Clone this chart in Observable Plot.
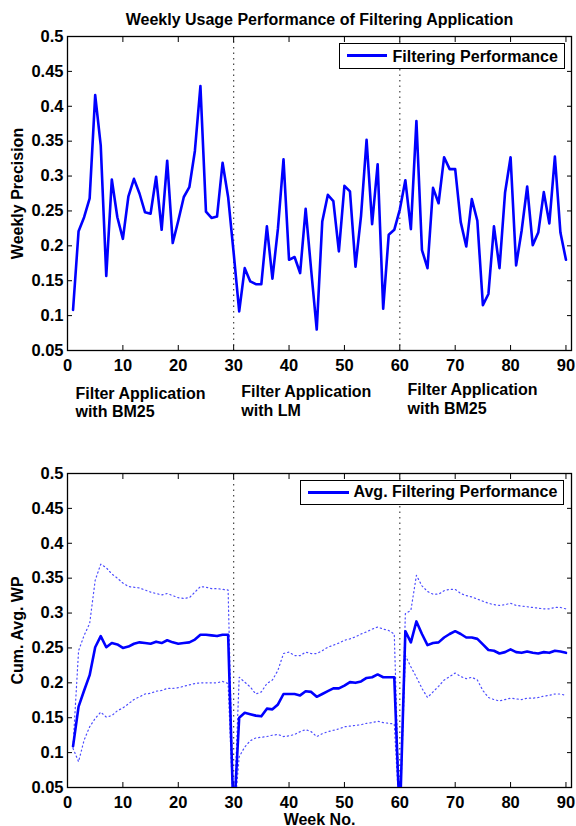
<!DOCTYPE html>
<html>
<head>
<meta charset="utf-8">
<script src="https://cdn.jsdelivr.net/npm/d3@7"></script>
<script src="https://cdn.jsdelivr.net/npm/@observablehq/plot@0.6"></script>
<style>
  body { margin: 0; background: #fff; }
  #wrap { position: relative; width: 576px; height: 826px; font-family: "Liberation Sans", Arial, Helvetica, sans-serif; font-weight: bold; }
  #wrap svg { position: absolute; left: 0; }
  #wrap svg text { font-weight: bold; }
  .legend { position: absolute; background: #fff; border: 1.5px solid #000; box-sizing: border-box; font-size: 16px; }
  .legend .sample { position: absolute; height: 3px; background: #0000ff; }
  .legend .lab { position: absolute; line-height: 16px; white-space: nowrap; color: #000; }
</style>
</head>
<body>
<div id="wrap"></div>
<script>
// ---------- data ----------
const weeks = d3.range(1, 91);

const weeklyPrecision = [
  0.108, 0.221, 0.241, 0.268, 0.416, 0.344, 0.157, 0.295, 0.241, 0.210,
  0.271, 0.296, 0.275, 0.248, 0.246, 0.299, 0.223, 0.322, 0.204, 0.236,
  0.270, 0.284, 0.336, 0.429, 0.249, 0.240, 0.242, 0.319, 0.270, 0.190,
  0.106, 0.168, 0.149, 0.145, 0.145, 0.228, 0.153, 0.225, 0.324, 0.180,
  0.184, 0.161, 0.253, 0.165, 0.080, 0.235, 0.273, 0.264, 0.192, 0.286,
  0.278, 0.170, 0.243, 0.352, 0.231, 0.317, 0.110, 0.216, 0.223, 0.252,
  0.294, 0.224, 0.379, 0.194, 0.168, 0.283, 0.261, 0.327, 0.310, 0.310,
  0.234, 0.199, 0.267, 0.236, 0.115, 0.131, 0.228, 0.168, 0.276, 0.327,
  0.172, 0.222, 0.285, 0.201, 0.219, 0.277, 0.232, 0.328, 0.219, 0.180
];

const cumAvg = [
  0.109, 0.166, 0.189, 0.211, 0.251, 0.267, 0.251, 0.257, 0.255, 0.250,
  0.252, 0.256, 0.258, 0.257, 0.256, 0.259, 0.257, 0.261, 0.258, 0.256,
  0.257, 0.258, 0.262, 0.269, 0.269, 0.268, 0.267, 0.269, 0.269, 0,
  0.150, 0.157, 0.155, 0.153, 0.152, 0.163, 0.162, 0.169, 0.184, 0.184,
  0.184, 0.182, 0.188, 0.187, 0.180, 0.184, 0.188, 0.192, 0.192, 0.196,
  0.201, 0.200, 0.202, 0.207, 0.208, 0.212, 0.208, 0.208, 0.208, 0,
  0.274, 0.258, 0.288, 0.270, 0.254, 0.257, 0.258, 0.265, 0.270, 0.274,
  0.270, 0.265, 0.265, 0.263, 0.255, 0.247, 0.246, 0.242, 0.244, 0.248,
  0.244, 0.243, 0.245, 0.243, 0.242, 0.244, 0.243, 0.246, 0.245, 0.243
];

const cumUpper = [
  0.109, 0.246, 0.268, 0.285, 0.347, 0.370, 0.365, 0.356, 0.350, 0.343,
  0.338, 0.337, 0.336, 0.333, 0.330, 0.328, 0.326, 0.328, 0.325, 0.322,
  0.321, 0.322, 0.330, 0.338, 0.337, 0.335, 0.335, 0.334, 0.333, 0,
  0.208, 0.201, 0.194, 0.184, 0.187, 0.199, 0.204, 0.218, 0.242, 0.244,
  0.239, 0.239, 0.244, 0.242, 0.242, 0.246, 0.251, 0.254, 0.257, 0.261,
  0.263, 0.266, 0.270, 0.273, 0.277, 0.280, 0.277, 0.275, 0.270, 0,
  0.299, 0.304, 0.354, 0.339, 0.331, 0.327, 0.327, 0.332, 0.334, 0.334,
  0.328, 0.325, 0.323, 0.320, 0.317, 0.314, 0.312, 0.311, 0.312, 0.314,
  0.311, 0.310, 0.309, 0.308, 0.307, 0.306, 0.306, 0.308, 0.308, 0.306
];

const cumLower = [
  0.106, 0.087, 0.118, 0.137, 0.149, 0.158, 0.151, 0.153, 0.160, 0.164,
  0.170, 0.176, 0.180, 0.184, 0.185, 0.188, 0.189, 0.192, 0.192, 0.193,
  0.195, 0.197, 0.199, 0.200, 0.200, 0.200, 0.200, 0.202, 0.199, 0,
  0.094, 0.108, 0.117, 0.121, 0.122, 0.123, 0.125, 0.126, 0.123, 0.124,
  0.126, 0.130, 0.133, 0.130, 0.123, 0.127, 0.130, 0.132, 0.134, 0.137,
  0.138, 0.139, 0.140, 0.142, 0.143, 0.145, 0.143, 0.142, 0.141, 0,
  0.239, 0.223, 0.208, 0.192, 0.179, 0.187, 0.195, 0.204, 0.209, 0.214,
  0.209, 0.206, 0.208, 0.204, 0.189, 0.179, 0.176, 0.174, 0.176, 0.178,
  0.177, 0.176, 0.178, 0.178, 0.179, 0.181, 0.182, 0.184, 0.184, 0.182
];

const phaseBoundaries = [30, 60];
const xTicks = [0, 10, 20, 30, 40, 50, 60, 70, 80, 90];
const yTicks = [0.05, 0.1, 0.15, 0.2, 0.25, 0.3, 0.35, 0.4, 0.45, 0.5];
const yTickLabels = ["0.05", "0.1", "0.15", "0.2", "0.25", "0.3", "0.35", "0.4", "0.45", "0.5"];
const xTickLabels = ["0", "10", "20", "30", "40", "50", "60", "70", "80", "90"];

const phaseLabels = ["Filter Application\nwith BM25", "Filter Application\nwith LM", "Filter Application\nwith BM25"];
const phaseLabelX = [1.44, 31.38, 61.39];

const titleText = "Weekly Usage Performance of Filtering Application";
const topYLabel = "Weekly Precision";
const bottomYLabel = "Cum. Avg. WP";
const xLabel = "Week No.";
const topLegend = "Filtering Performance";
const bottomLegend = "Avg. Filtering Performance";

// ---------- build ----------
const rows = weeks.map((w, i) => ({
  week: w, wp: weeklyPrecision[i], avg: cumAvg[i], up: cumUpper[i], lo: cumLower[i]
}));

const FONT = '"Liberation Sans", Arial, Helvetica, sans-serif';
const BLUE = "#0000ff";

function frameAxes(xPad) {
  return [
    Plot.ruleX(phaseBoundaries, {stroke: "#444", strokeWidth: 1.2, strokeDasharray: "1.5,4"}),
    Plot.frame({stroke: "#000", strokeWidth: 1.3}),
    Plot.axisX(xTicks, {anchor: "bottom", tickSize: 0, tickPadding: xPad, label: null,
      tickFormat: d => xTickLabels[xTicks.indexOf(d)], fontSize: 16.5, fontWeight: "bold"}),
    Plot.axisY(yTicks, {anchor: "left", tickSize: 0, tickPadding: 4, label: null,
      tickFormat: d => yTickLabels[yTicks.indexOf(d)], fontSize: 16.5, fontWeight: "bold"}),
    Plot.axisX(xTicks, {anchor: "bottom", tickSize: -5, tickFormat: () => "", label: null, strokeWidth: 1}),
    Plot.axisX(xTicks, {anchor: "top", tickSize: -5, tickFormat: () => "", label: null, strokeWidth: 1}),
    Plot.axisY(yTicks, {anchor: "left", tickSize: -5, tickFormat: () => "", label: null, strokeWidth: 1}),
    Plot.axisY(yTicks, {anchor: "right", tickSize: -5, tickFormat: () => "", label: null, strokeWidth: 1})
  ];
}

const baseStyle = {fontFamily: FONT, fontSize: "16px", fontWeight: "bold", background: "white", overflow: "visible", color: "#000"};

const topPlot = Plot.plot({
  width: 576, height: 440,
  marginLeft: 67, marginRight: 5, marginTop: 36, marginBottom: 90,
  style: baseStyle,
  x: {domain: [0, 91]},
  y: {domain: [0.05, 0.5]},
  marks: [
    ...frameAxes(8.5),
    Plot.line(rows, {x: "week", y: "wp", stroke: BLUE, strokeWidth: 2.6, clip: true}),
    Plot.text([titleText], {text: d => d, frameAnchor: "top", lineAnchor: "bottom", dy: -12, fontSize: 16, fontWeight: "bold"}),
    Plot.text([topYLabel], {text: d => d, frameAnchor: "left", rotate: -90, dx: -50, lineAnchor: "middle", textAnchor: "middle", fontSize: 16, fontWeight: "bold"}),
    Plot.text([phaseLabels[0]], {text: d => d, x: () => phaseLabelX[0], frameAnchor: "bottom", textAnchor: "start", lineAnchor: "bottom", lineHeight: 1.15, dy: 66.7, fontSize: 16, fontWeight: "bold"}),
    Plot.text([phaseLabels[1]], {text: d => d, x: () => phaseLabelX[1], frameAnchor: "bottom", textAnchor: "start", lineAnchor: "bottom", lineHeight: 1.15, dy: 65, fontSize: 16, fontWeight: "bold"}),
    Plot.text([phaseLabels[2]], {text: d => d, x: () => phaseLabelX[2], frameAnchor: "bottom", textAnchor: "start", lineAnchor: "bottom", lineHeight: 1.15, dy: 63, fontSize: 16, fontWeight: "bold"})
  ]
});
topPlot.style.top = "0px";

const bottomPlot = Plot.plot({
  width: 576, height: 386,
  marginLeft: 67, marginRight: 5, marginTop: 33, marginBottom: 39,
  style: baseStyle,
  x: {domain: [0, 91]},
  y: {domain: [0.05, 0.5]},
  marks: [
    ...frameAxes(8.5),
    Plot.line(rows, {x: "week", y: "up", stroke: BLUE, strokeOpacity: 0.7, strokeWidth: 1.2, strokeDasharray: "1.2,3", clip: true}),
    Plot.line(rows, {x: "week", y: "lo", stroke: BLUE, strokeOpacity: 0.7, strokeWidth: 1.2, strokeDasharray: "1.2,3", clip: true}),
    Plot.line(rows, {x: "week", y: "avg", stroke: BLUE, strokeWidth: 2.6, clip: true}),
    Plot.text([bottomYLabel], {text: d => d, frameAnchor: "left", rotate: -90, dx: -50, lineAnchor: "middle", textAnchor: "middle", fontSize: 16, fontWeight: "bold"}),
    Plot.text([xLabel], {text: d => d, frameAnchor: "bottom", lineAnchor: "bottom", dy: 37, fontSize: 16, fontWeight: "bold"})
  ]
});
bottomPlot.style.top = "440px";

const wrap = document.getElementById("wrap");
wrap.appendChild(topPlot);
wrap.appendChild(bottomPlot);

function addLegend(text, left, top, width, height, sampleLeft, sampleTop, sampleWidth, textLeft, textTop) {
  const box = document.createElement("div");
  box.className = "legend";
  Object.assign(box.style, {left: left + "px", top: top + "px", width: width + "px", height: height + "px"});
  const s = document.createElement("div");
  s.className = "sample";
  Object.assign(s.style, {left: sampleLeft + "px", top: sampleTop + "px", width: sampleWidth + "px"});
  const t = document.createElement("div");
  t.className = "lab";
  t.textContent = text;
  Object.assign(t.style, {left: textLeft + "px", top: textTop + "px"});
  box.appendChild(s);
  box.appendChild(t);
  wrap.appendChild(box);
}
addLegend(topLegend, 339, 43, 226, 26, 7, 9.5, 40, 52.5, 4.5);
addLegend(bottomLegend, 300, 480, 264, 25, 7, 9.5, 41, 52.5, 3.3);
</script>
</body>
</html>
